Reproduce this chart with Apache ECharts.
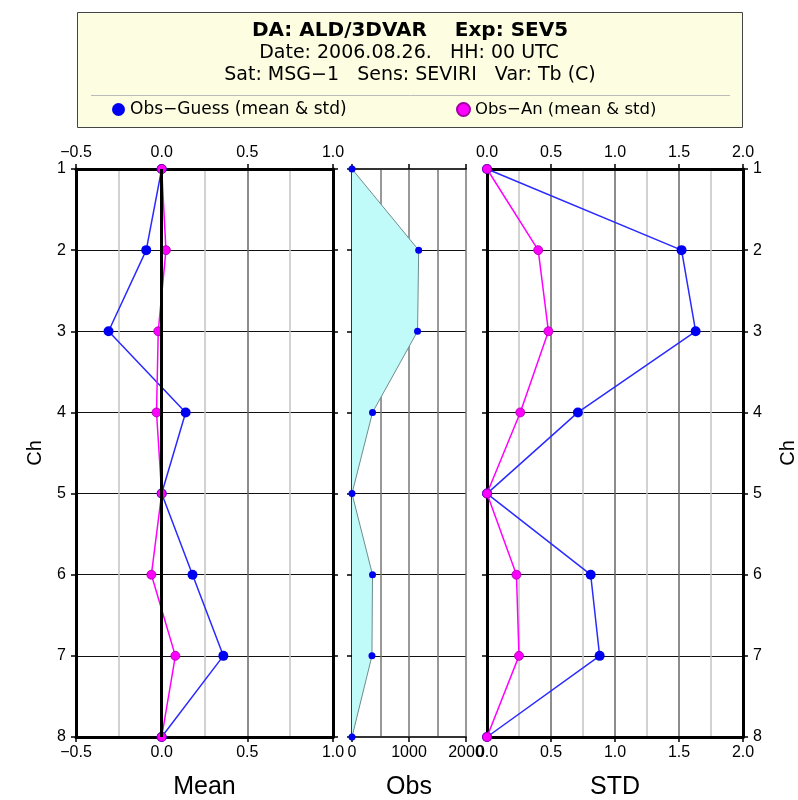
<!DOCTYPE html>
<html>
<head>
<meta charset="utf-8">
<script src="https://cdn.jsdelivr.net/npm/echarts@6/dist/echarts.min.js"></script>
<style>
  html, body { margin: 0; padding: 0; background: #fff; }
  #chart { width: 798px; height: 800px; }
</style>
</head>
<body>
<div id="chart"></div>
<script>
// Channels of the SEVIRI instrument (vertical axis of every panel)
const channels = ['1', '2', '3', '4', '5', '6', '7', '8'];

// Mean of departures
const meanGuess = [0.0, -0.09, -0.31, 0.14, 0.0, 0.18, 0.36, 0.0];
const meanAn    = [0.0, 0.025, -0.02, -0.03, 0.0, -0.06, 0.08, 0.0];

// Number of observations per channel
const obsCount  = [0, 1170, 1150, 360, 0, 360, 350, 0];

// Standard deviation of departures
const stdGuess  = [0.0, 1.52, 1.63, 0.71, 0.0, 0.81, 0.88, 0.0];
const stdAn     = [0.0, 0.40, 0.48, 0.26, 0.0, 0.23, 0.25, 0.0];

// Axis ranges and tick steps
const meanRange = [-0.5, 1.0], meanStep = 0.5;
const obsRange  = [0, 2000],   obsStep  = 1000;
const stdRange  = [0, 2.0],    stdStep  = 0.5;

const nameGuess = 'Obs\u2212Guess (mean & std)';
const nameAn    = 'Obs\u2212An (mean & std)';

const FONT = '"Liberation Sans", Arial, Helvetica, sans-serif';
const HEAD_FONT = '"DejaVu Sans", "Liberation Sans", sans-serif';
const BLUE = '#0000f0', BLUE_LINE = '#2a2aff', MAGENTA = '#ff00ff';

const fmt1 = v => (v < 0 ? '\u2212' : '') + Math.abs(v).toFixed(1);

const tickStyle = { show: true, inside: false, length: 5, lineStyle: { color: '#000', width: 1.5 } };
const frameLine = { show: true, onZero: false, lineStyle: { color: '#000', width: 3 } };
const labelStyle = { color: '#000', fontSize: 16, fontFamily: FONT };

function xAxisPair(gridIndex, range, step, name, formatter, opts) {
  const bottom = {
    type: 'value', gridIndex, position: 'bottom', min: range[0], max: range[1], interval: step,
    name, nameLocation: 'middle', nameGap: 38,
    nameTextStyle: { color: '#000', fontSize: 25, fontFamily: FONT },
    axisLine: opts.frame, axisTick: tickStyle,
    axisLabel: Object.assign({ margin: 8, formatter }, labelStyle),
    splitLine: { show: true, lineStyle: { color: opts.major, width: 1.5 } },
    minorTick: { show: false, splitNumber: 2 },
    minorSplitLine: { show: true, lineStyle: { color: opts.minor, width: 1.5 } }
  };
  const top = {
    type: 'value', gridIndex, position: 'top', min: range[0], max: range[1], interval: step,
    axisLine: opts.frame, axisTick: tickStyle,
    axisLabel: Object.assign({ show: opts.topLabels, margin: 8, formatter }, labelStyle),
    splitLine: { show: false }
  };
  return [bottom, top];
}

function yAxis(gridIndex, position, showLabels, split, frame, name) {
  return {
    type: 'category', gridIndex, position, inverse: true, boundaryGap: false, data: channels,
    name: name || '', nameLocation: 'middle', nameGap: name ? (position === 'left' ? 31 : 35) : 0, nameRotate: 90,
    nameTextStyle: { color: '#000', fontSize: 20, fontFamily: FONT },
    axisLine: frame, axisTick: frame.show ? tickStyle : { show: false },
    axisLabel: Object.assign({ show: showLabels, margin: 10 }, labelStyle),
    splitLine: { show: split, interval: 0, lineStyle: { color: '#111', width: 1 } }
  };
}

const midFrame = { show: true, onZero: false, lineStyle: { color: '#333', width: 2 } };

const option = {
  animation: false,
  backgroundColor: '#fff',
  textStyle: { fontFamily: FONT },
  grid: [
    { left: 76, top: 169, width: 257, height: 568, outerBoundsMode: 'none', containLabel: false },
    { left: 352, top: 169, width: 114, height: 568, outerBoundsMode: 'none', containLabel: false },
    { left: 487, top: 169, width: 256, height: 568, outerBoundsMode: 'none', containLabel: false }
  ],
  xAxis: [
    ...xAxisPair(0, meanRange, meanStep, 'Mean', fmt1, { frame: frameLine, major: '#666', minor: '#c4c4c4', topLabels: true }),
    ...xAxisPair(1, obsRange, obsStep, 'Obs', v => String(v), { frame: midFrame, major: '#777', minor: '#777', topLabels: false }),
    ...xAxisPair(2, stdRange, stdStep, 'STD', fmt1, { frame: frameLine, major: '#666', minor: '#c4c4c4', topLabels: true })
  ],
  yAxis: [
    yAxis(0, 'left', true, true, frameLine, 'Ch'),
    yAxis(0, 'right', false, false, frameLine),
    yAxis(1, 'left', false, true, midFrame),
    yAxis(2, 'left', false, true, frameLine),
    yAxis(2, 'right', true, false, frameLine, 'Ch')
  ],
  legend: [
    {
      left: 112, top: 101, padding: 0, itemGap: 0, icon: 'circle', itemWidth: 13, itemHeight: 13,
      selectedMode: false, data: [nameGuess],
      textStyle: { color: '#000', fontSize: 17, fontFamily: HEAD_FONT }
    },
    {
      left: 456, top: 101, padding: 0, itemGap: 0, icon: 'circle', itemWidth: 13, itemHeight: 13,
      selectedMode: false, data: [nameAn],
      textStyle: { color: '#000', fontSize: 16.5, fontFamily: HEAD_FONT }
    }
  ],
  graphic: [
    {
      type: 'rect', z: -10,
      shape: { x: 77.5, y: 12.5, width: 665, height: 115 },
      style: { fill: '#fdfde1', stroke: '#444', lineWidth: 1 }
    },
    {
      type: 'line', z: -9,
      shape: { x1: 91, y1: 95.5, x2: 730, y2: 95.5 },
      style: { stroke: '#bbb', lineWidth: 1 }
    },
    {
      type: 'text', x: 410, y: 31,
      style: { text: 'DA: ALD/3DVAR    Exp: SEV5', font: 'bold 20px ' + HEAD_FONT, fill: '#000', align: 'center', verticalAlign: 'middle' }
    },
    {
      type: 'text', x: 409, y: 53,
      style: { text: 'Date: 2006.08.26.   HH: 00 UTC', font: '19px ' + HEAD_FONT, fill: '#000', align: 'center', verticalAlign: 'middle' }
    },
    {
      type: 'text', x: 410, y: 75,
      style: { text: 'Sat: MSG\u22121   Sens: SEVIRI   Var: Tb (C)', font: '19px ' + HEAD_FONT, fill: '#000', align: 'center', verticalAlign: 'middle' }
    }
  ],
  series: [
    {
      // zero reference line of the mean panel
      type: 'line', xAxisIndex: 0, yAxisIndex: 0, data: [], z: 1, silent: true,
      markLine: {
        silent: true, symbol: 'none', label: { show: false },
        lineStyle: { color: '#000', width: 3, type: 'solid' },
        data: [{ xAxis: 0 }]
      }
    },
    {
      name: nameGuess, type: 'line', xAxisIndex: 0, yAxisIndex: 0, data: meanGuess, z: 3, clip: false,
      symbol: 'circle', symbolSize: 10,
      lineStyle: { color: BLUE_LINE, width: 1.5 }, itemStyle: { color: BLUE, borderWidth: 0 }
    },
    {
      name: nameAn, type: 'line', xAxisIndex: 0, yAxisIndex: 0, data: meanAn, z: 4, clip: false,
      symbol: 'circle', symbolSize: 9,
      lineStyle: { color: MAGENTA, width: 1.5 }, itemStyle: { color: MAGENTA, borderColor: '#a000a0', borderWidth: 0.8 }
    },
    {
      name: 'Obs', type: 'line', xAxisIndex: 2, yAxisIndex: 2, data: obsCount, z: 3, clip: false,
      symbol: 'circle', symbolSize: 7,
      lineStyle: { color: '#6e8c8c', width: 1 },
      areaStyle: { color: '#c0faf9', opacity: 1 },
      itemStyle: { color: BLUE, borderWidth: 0 }
    },
    {
      name: nameGuess, type: 'line', xAxisIndex: 4, yAxisIndex: 3, data: stdGuess, z: 3, clip: false,
      symbol: 'circle', symbolSize: 10,
      lineStyle: { color: BLUE_LINE, width: 1.5 }, itemStyle: { color: BLUE, borderWidth: 0 }
    },
    {
      name: nameAn, type: 'line', xAxisIndex: 4, yAxisIndex: 3, data: stdAn, z: 4, clip: false,
      symbol: 'circle', symbolSize: 9,
      lineStyle: { color: MAGENTA, width: 1.5 }, itemStyle: { color: MAGENTA, borderColor: '#a000a0', borderWidth: 0.8 }
    }
  ]
};

const chart = echarts.init(document.getElementById('chart'), null, { renderer: 'canvas' });
chart.setOption(option);
</script>
</body>
</html>
